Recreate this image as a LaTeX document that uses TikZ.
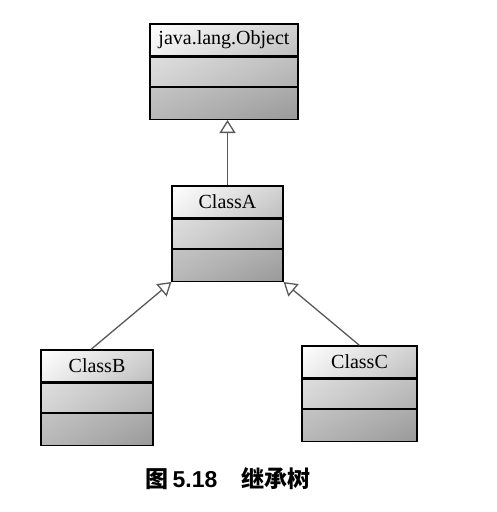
\documentclass[tikz,border=0pt]{standalone}
\usepackage{fontspec}
\setmainfont{Liberation Serif}
\setsansfont{Liberation Sans}
\newfontfamily\cjk{Noto Sans CJK SC}
\usetikzlibrary{positioning, arrows.meta, shadings}
\tikzstyle{title} = [rectangle, inner sep=0pt, minimum height=32pt, draw=black, line width=1.2pt, upper left=white, upper right=gray!35, lower left=gray!12, lower right=gray!52, font=\fontsize{20}{22}\selectfont]
\tikzstyle{attrs} = [rectangle, inner sep=0pt, minimum height=29pt, draw=black, line width=1.2pt, upper left=gray!26, upper right=gray!50, lower left=gray!34, lower right=gray!62]
\tikzstyle{ops} = [rectangle, inner sep=0pt, minimum height=32pt, draw=black, line width=1.2pt, upper left=gray!46, upper right=gray!66, lower left=gray!56, lower right=gray!80]
\tikzstyle{inherit} = [line width=1.3pt, draw=black!65, -{Triangle[open, length=13pt, width=16pt, line width=1.3pt]}]

\begin{document}
\begin{tikzpicture}[x=1pt, y=-1pt]
\useasboundingbox (0,0) rectangle (496,512);

\node (object) [title, minimum width=148pt] at (224,40) {java.lang.Object};
\node (object_attr) [attrs, minimum width=148pt, below=0pt of object] {};
\node (object_op) [ops, minimum width=148pt, below=0pt of object_attr] {};

\node (classA) [title, minimum width=111pt] at (227.5,202) {ClassA};
\node (classA_attr) [attrs, minimum width=111pt, below=0pt of classA] {};
\node (classA_op) [ops, minimum width=111pt, below=0pt of classA_attr] {};

\node (classB) [title, minimum width=112pt] at (97,366) {ClassB};
\node (classB_attr) [attrs, minimum width=112pt, below=0pt of classB] {};
\node (classB_op) [ops, minimum width=112pt, below=0pt of classB_attr] {};

\node (classC) [title, minimum width=115pt] at (359.5,362) {ClassC};
\node (classC_attr) [attrs, minimum width=115pt, below=0pt of classC] {};
\node (classC_op) [ops, minimum width=115pt, below=0pt of classC_attr] {};

\draw[inherit] (classA.north) -- (classA.north |- object_op.south);
\draw[inherit] ([xshift=-6pt]classB.north) -- (classA_op.south west);
\draw[inherit] (classC.north) -- (classA_op.south east);

\node (caption) at (228,479) {\fontsize{23}{26}\selectfont\bfseries\cjk 图\hspace{4pt}{\sffamily 5.18}\hspace{24pt}继承树};
\end{tikzpicture}
\end{document}
